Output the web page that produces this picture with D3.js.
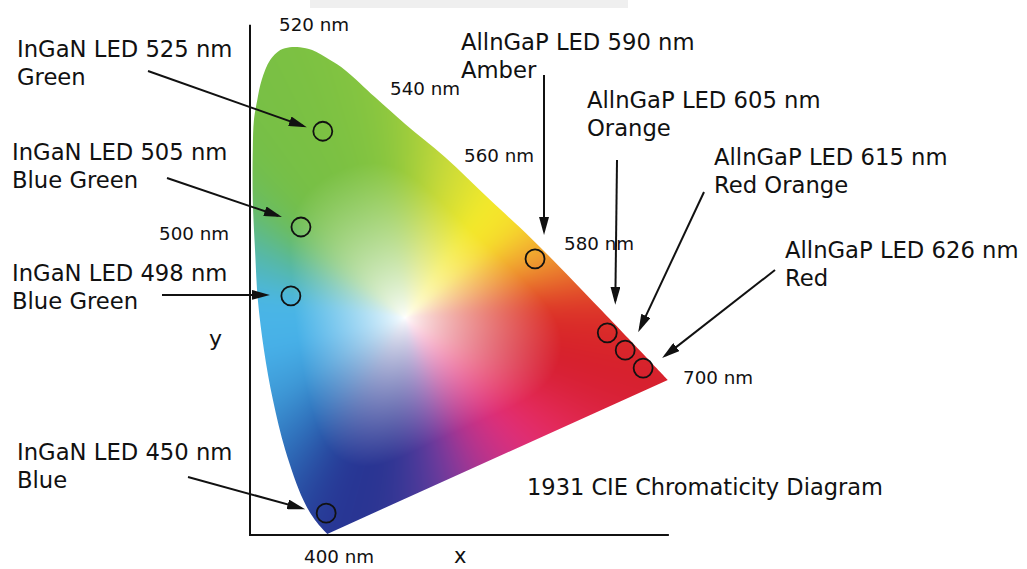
<!DOCTYPE html>
<html>
<head>
<meta charset="utf-8">
<script src="https://cdn.jsdelivr.net/npm/d3@7"></script>
<style>
  body { margin: 0; background: #fff; }
  svg text { font-family: "DejaVu Sans", sans-serif; fill: #111; }
</style>
</head>
<body>
<div id="chart"></div>
<script>
// spectral locus outline (chromaticity units)
const locusX = [0.138, 0.116, 0.095, 0.063, 0.041, 0.025, 0.014, 0.009, 0.005, 0.005,
  0.007, 0.013, 0.021, 0.036, 0.054, 0.071, 0.089, 0.111, 0.143, 0.170,
  0.223, 0.277, 0.348, 0.429, 0.505, 0.625, 0.746];
const locusY = [0.002, 0.027, 0.063, 0.152, 0.241, 0.330, 0.420, 0.509, 0.598, 0.688,
  0.741, 0.777, 0.813, 0.848, 0.866, 0.871, 0.871, 0.866, 0.848, 0.830,
  0.782, 0.734, 0.675, 0.598, 0.527, 0.404, 0.277];
const whitePoint = [0.277, 0.388];

// wavelength labels along the locus
const nmLabels = ["520 nm", "540 nm", "560 nm", "580 nm", "500 nm", "700 nm", "400 nm"];

// LED points
const ledNames = ["InGaN LED 525 nm", "InGaN LED 505 nm", "InGaN LED 498 nm", "InGaN LED 450 nm",
  "AllnGaP LED 590 nm", "AllnGaP LED 605 nm", "AllnGaP LED 615 nm", "AllnGaP LED 626 nm"];
const ledColors = ["Green", "Blue Green", "Blue Green", "Blue", "Amber", "Orange", "Red Orange", "Red"];
const ledX = [0.130, 0.091, 0.073, 0.136, 0.509, 0.638, 0.670, 0.702];
const ledY = [0.721, 0.550, 0.427, 0.039, 0.493, 0.361, 0.330, 0.298];

const title = "1931 CIE Chromaticity Diagram";

(function () {
  const width = 1027, height = 569;

  const svg = d3.select("#chart")
    .append("svg")
    .attr("width", width)
    .attr("height", height);

  const x = d3.scaleLinear().domain([0, 0.75]).range([250, 670]);
  const y = d3.scaleLinear().domain([0, 0.9]).range([535, 31]);

  // faint banner at the very top
  svg.append("rect")
    .attr("x", 310).attr("y", 0).attr("width", 318).attr("height", 8)
    .attr("fill", "#efefef");

  const defs = svg.append("defs");

  // locus path
  const pts = locusX.map((d, i) => [x(d), y(locusY[i])]);
  const locusPath = d3.line().curve(d3.curveCatmullRom.alpha(0.5))(pts) + "Z";

  defs.append("clipPath").attr("id", "locus")
    .append("path").attr("d", locusPath);

  // sample outline into a polygon for ray casting
  const probe = svg.append("path").attr("d", locusPath).attr("fill", "none");
  const node = probe.node();
  const total = node.getTotalLength();
  const poly = d3.range(900).map(i => {
    const p = node.getPointAtLength(total * i / 900);
    return [p.x, p.y];
  });
  probe.remove();

  const wx = x(whitePoint[0]), wy = y(whitePoint[1]);

  // edge colours by angle around the white point (screen angle, degrees)
  const hueAngles = [-173, -156, -142, -132, -111, -98, -90, -76, -54, -40, -31, -20, -13.6,
    -2.6, 13.3, 23, 35.6, 48, 63, 74, 85, 97, 110, 119, 132, 148, 167, 187];
  const hueColors = ["#4ab6e6", "#56b8a6", "#6cbd5c", "#76bf47", "#7cc142", "#86c540", "#9acb3c",
    "#c6d93a", "#f4ea2a", "#f6dc2c", "#f3b830", "#ed8c2e", "#e76a2c", "#dc3228", "#d61f2b",
    "#d9223a", "#e42a5a", "#df2f7a", "#b2348f", "#7a3a9c", "#4a3a9a", "#2b3592", "#273594",
    "#28479e", "#2f70bb", "#3e98d6", "#47b0e8", "#4ab6e6"];

  const NB = 1440;
  const rawR = new Float32Array(NB);
  const rawC = [];
  for (let b = 0; b < NB; b++) {
    let a = -180 + (b + 0.5) * 360 / NB;
    const rad = a * Math.PI / 180;
    const dx = Math.cos(rad), dy = Math.sin(rad);
    let best = Infinity;
    for (let k = 0; k < poly.length; k++) {
      const p1 = poly[k], p2 = poly[(k + 1) % poly.length];
      const ex = p2[0] - p1[0], ey = p2[1] - p1[1];
      const den = dx * ey - dy * ex;
      if (Math.abs(den) < 1e-9) continue;
      const qx = p1[0] - wx, qy = p1[1] - wy;
      const t = (qx * ey - qy * ex) / den;
      const u = (qx * dy - qy * dx) / den;
      if (t > 0 && u >= 0 && u <= 1 && t < best) best = t;
    }
    rawR[b] = Math.min(best, 215);
    if (a < hueAngles[0]) a += 360;
    let j = 0;
    while (j < hueAngles.length - 2 && a > hueAngles[j + 1]) j++;
    const f = Math.max(0, Math.min(1, (a - hueAngles[j]) / (hueAngles[j + 1] - hueAngles[j])));
    rawC.push(d3.rgb(d3.interpolateRgb(hueColors[j], hueColors[j + 1])(f)));
  }

  // smooth radius and colour around the circle to avoid streaks
  const binR = new Float32Array(NB);
  const binC = [];
  for (let b = 0; b < NB; b++) {
    let sr = 0, nr = 0, r = 0, g = 0, bl = 0, n = 0;
    for (let k = -80; k <= 80; k++) {
      const q = (b + k + NB) % NB;
      const wr = 81 - Math.abs(k);
      sr += rawR[q] * wr; nr += wr;
      if (Math.abs(k) <= 40) {
        const w = 41 - Math.abs(k);
        r += rawC[q].r * w; g += rawC[q].g * w; bl += rawC[q].b * w; n += w;
      }
    }
    binR[b] = sr / nr;
    binC.push({ r: r / n, g: g / n, b: bl / n });
  }

  // paint the colour field on a canvas
  const x0 = 248, y0 = 40, cw = 425, ch = 500;
  const canvas = document.createElement("canvas");
  canvas.width = cw; canvas.height = ch;
  const ctx = canvas.getContext("2d");
  const img = ctx.createImageData(cw, ch);
  for (let j = 0; j < ch; j++) {
    for (let i = 0; i < cw; i++) {
      const dx = x0 + i + 0.5 - wx, dy = y0 + j + 0.5 - wy;
      const a = Math.atan2(dy, dx) * 180 / Math.PI;
      const fb = (a + 180) / 360 * NB - 0.5;
      const b0 = (Math.floor(fb) + NB) % NB, b1 = (b0 + 1) % NB;
      const fr = fb - Math.floor(fb);
      const R = binR[b0] * (1 - fr) + binR[b1] * fr;
      const t = Math.hypot(dx, dy) / R;
      const s = Math.pow(Math.min(1, t / 0.75), 0.8);
      const c0 = binC[b0], c1 = binC[b1];
      const o = (j * cw + i) * 4;
      img.data[o] = 255 + (c0.r * (1 - fr) + c1.r * fr - 255) * s;
      img.data[o + 1] = 255 + (c0.g * (1 - fr) + c1.g * fr - 255) * s;
      img.data[o + 2] = 255 + (c0.b * (1 - fr) + c1.b * fr - 255) * s;
      img.data[o + 3] = 255;
    }
  }
  ctx.putImageData(img, 0, 0);

  svg.append("image")
    .attr("x", x0).attr("y", y0)
    .attr("width", cw).attr("height", ch)
    .attr("href", canvas.toDataURL())
    .attr("clip-path", "url(#locus)");

  // axes
  svg.append("line")
    .attr("x1", x(0)).attr("y1", y(0) + 1)
    .attr("x2", x(0)).attr("y2", y(0.911))
    .attr("stroke", "#111").attr("stroke-width", 2);
  svg.append("line")
    .attr("x1", x(0) - 1).attr("y1", y(0))
    .attr("x2", x(0.748)).attr("y2", y(0))
    .attr("stroke", "#111").attr("stroke-width", 2);

  svg.append("text").attr("x", 209).attr("y", 346).attr("font-size", 22).text("y");
  svg.append("text").attr("x", 454).attr("y", 563).attr("font-size", 21).text("x");

  // wavelength labels
  const nmPos = [[279, 31], [390, 95], [464, 162], [564, 250], [159, 240], [683, 384], [304, 563]];
  svg.selectAll(".nm")
    .data(nmLabels)
    .join("text")
    .attr("class", "nm")
    .attr("x", (d, i) => nmPos[i][0])
    .attr("y", (d, i) => nmPos[i][1])
    .attr("font-size", 18.3)
    .text(d => d);

  // arrow head
  defs.append("marker")
    .attr("id", "arrow")
    .attr("viewBox", "0 0 18 10")
    .attr("refX", 14).attr("refY", 5)
    .attr("markerWidth", 18).attr("markerHeight", 10)
    .attr("markerUnits", "userSpaceOnUse")
    .attr("orient", "auto")
    .append("path").attr("d", "M0,0L18,5L0,10Z").attr("fill", "#111");

  // label anchor, arrow start and arrow tip offset from the point
  const annot = [
    { lx: 17, ly: 57, sx: 148, sy: 71, tx: -16, ty: -4 },
    { lx: 12, ly: 160, sx: 167, sy: 178, tx: -19, ty: -10 },
    { lx: 12, ly: 281, sx: 162, sy: 295, tx: -21, ty: -1 },
    { lx: 17, ly: 460, sx: 188, sy: 477, tx: -21, ty: -4 },
    { lx: 461, ly: 50, sx: 544, sy: 75, tx: 9, ty: -24 },
    { lx: 587, ly: 108, sx: 617, sy: 160, tx: 8, ty: -28 },
    { lx: 714, ly: 165, sx: 704, sy: 192, tx: 13, ty: -18 },
    { lx: 785, ly: 258, sx: 775, sy: 270, tx: 19, ty: -10 }
  ];

  const leds = ledNames.map((d, i) => ({ name: d, sub: ledColors[i], x: ledX[i], y: ledY[i], a: annot[i] }));

  const g = svg.append("g");

  g.selectAll(".arrow")
    .data(leds)
    .join("line")
    .attr("class", "arrow")
    .each(function (d) {
      const ex = x(d.x) + d.a.tx, ey = y(d.y) + d.a.ty;
      const len = Math.hypot(ex - d.a.sx, ey - d.a.sy);
      const ux = (ex - d.a.sx) / len, uy = (ey - d.a.sy) / len;
      d3.select(this)
        .attr("x1", d.a.sx).attr("y1", d.a.sy)
        .attr("x2", ex - 4 * ux).attr("y2", ey - 4 * uy);
    })
    .attr("stroke", "#111")
    .attr("stroke-width", 2)
    .attr("marker-end", "url(#arrow)");

  g.selectAll(".led")
    .data(leds)
    .join("circle")
    .attr("class", "led")
    .attr("cx", d => x(d.x))
    .attr("cy", d => y(d.y))
    .attr("r", 9.5)
    .attr("fill", "none")
    .attr("stroke", "#111")
    .attr("stroke-width", 1.8);

  const lab = g.selectAll(".lab")
    .data(leds)
    .join("text")
    .attr("class", "lab")
    .attr("font-size", 22.7);
  lab.append("tspan")
    .attr("x", d => d.a.lx).attr("y", d => d.a.ly)
    .text(d => d.name);
  lab.append("tspan")
    .attr("x", d => d.a.lx).attr("y", d => d.a.ly + 28)
    .text(d => d.sub);

  svg.append("text")
    .attr("x", 527).attr("y", 495)
    .attr("font-size", 22.5)
    .text(title);
}());
</script>
</body>
</html>
